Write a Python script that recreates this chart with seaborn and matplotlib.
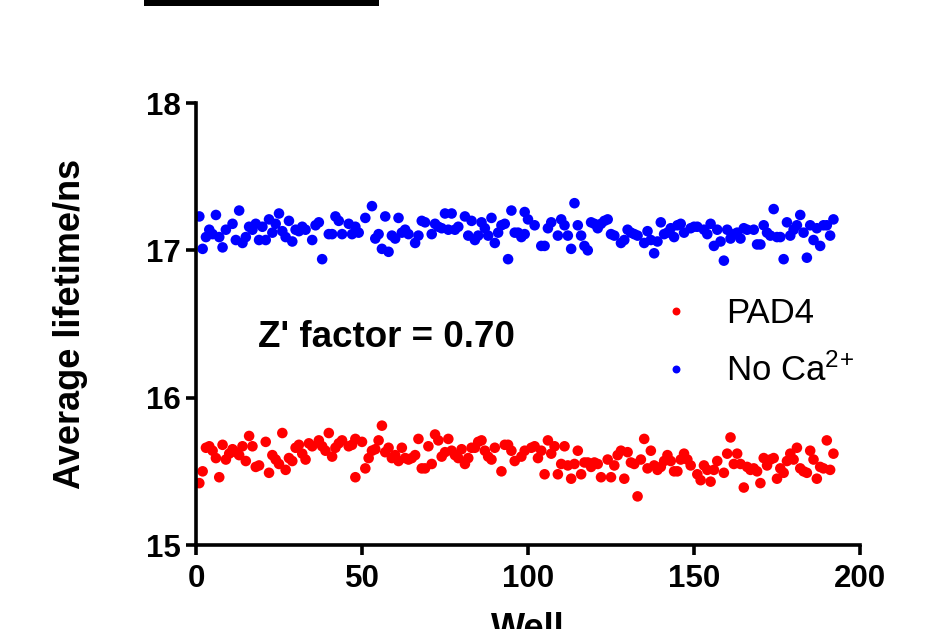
import numpy as np
import pandas as pd
import matplotlib
matplotlib.use("Agg")
import matplotlib.pyplot as plt
from matplotlib.patches import Rectangle
import seaborn as sns

# ---------------- data ----------------
noca_label = "No Ca$^{2\\!+}$"
pad4_label = "PAD4"

noca_well = [1, 2, 3, 4, 5, 6, 7, 8, 9, 11, 12, 13, 14, 15, 16, 17, 18, 19, 20, 21,
             22, 23, 24, 25, 26, 27, 28, 29, 30, 31, 32, 33, 35, 36, 37, 38, 40, 41, 42, 43,
             44, 46, 47, 48, 49, 51, 53, 54, 55, 56, 57, 58, 59, 60, 61, 62, 63, 64, 66, 67,
             68, 69, 71, 72, 73, 74, 75, 76, 77, 78, 79, 81, 82, 83, 84, 85, 86, 87, 88, 89,
             90, 91, 92, 93, 94, 95, 96, 97, 98, 99, 99, 100, 102, 104, 105, 106, 107, 109, 110, 111,
             112, 113, 114, 115, 116, 117, 118, 119, 120, 121, 122, 123, 124, 125, 126, 128, 129, 130, 131, 132,
             133, 135, 136, 137, 138, 139, 140, 141, 142, 143, 144, 145, 146, 147, 149, 150, 151, 153, 154, 155,
             156, 157, 158, 159, 160, 161, 162, 163, 164, 165, 166, 168, 169, 170, 171, 172, 173, 174, 175, 176,
             177, 178, 179, 180, 181, 182, 183, 184, 185, 186, 187, 188, 189, 190, 191, 192]
noca_val = [17.23, 17.01, 17.09, 17.14, 17.11, 17.24, 17.09, 17.02, 17.14, 17.18, 17.07, 17.27, 17.05, 17.09, 17.16, 17.14, 17.18, 17.07, 17.16, 17.07,
            17.21, 17.12, 17.18, 17.25, 17.13, 17.09, 17.20, 17.06, 17.14, 17.13, 17.16, 17.14, 17.07, 17.17, 17.19, 16.94, 17.11, 17.11, 17.23, 17.20,
            17.11, 17.18, 17.11, 17.16, 17.12, 17.22, 17.30, 17.08, 17.11, 17.01, 17.23, 16.99, 17.10, 17.08, 17.22, 17.12, 17.14, 17.11, 17.05, 17.10,
            17.20, 17.19, 17.11, 17.18, 17.16, 17.15, 17.25, 17.14, 17.25, 17.14, 17.16, 17.23, 17.10, 17.20, 17.07, 17.10, 17.19, 17.15, 17.10, 17.22,
            17.05, 17.12, 17.17, 17.18, 16.94, 17.27, 17.12, 17.12, 17.09, 17.26, 17.11, 17.21, 17.17, 17.03, 17.03, 17.15, 17.19, 17.10, 17.21, 17.17,
            17.10, 17.01, 17.32, 17.17, 17.10, 17.03, 17.00, 17.19, 17.18, 17.15, 17.18, 17.20, 17.21, 17.11, 17.10, 17.05, 17.07, 17.14, 17.12, 17.11,
            17.10, 17.05, 17.13, 17.07, 16.98, 17.06, 17.19, 17.11, 17.12, 17.15, 17.09, 17.17, 17.18, 17.12, 17.15, 17.16, 17.16, 17.14, 17.11, 17.18,
            17.03, 17.14, 17.06, 16.93, 17.14, 17.08, 17.11, 17.12, 17.08, 17.15, 17.14, 17.14, 17.04, 17.04, 17.17, 17.12, 17.10, 17.28, 17.09, 17.09,
            16.94, 17.19, 17.10, 17.14, 17.17, 17.24, 17.12, 16.95, 17.17, 17.07, 17.15, 17.03, 17.17, 17.17, 17.10, 17.21]

pad4_well = [1, 2, 3, 4, 5, 6, 7, 8, 9, 10, 11, 12, 13, 14, 15, 16, 17, 18, 19, 21,
             22, 23, 24, 25, 26, 27, 28, 29, 30, 31, 32, 33, 34, 35, 37, 38, 39, 40, 41, 42,
             43, 44, 46, 47, 48, 48, 50, 51, 52, 53, 54, 55, 56, 57, 58, 59, 60, 61, 62, 63,
             64, 65, 66, 67, 68, 69, 70, 71, 72, 73, 74, 75, 76, 77, 78, 79, 80, 81, 82, 83,
             84, 85, 86, 87, 88, 89, 90, 92, 93, 94, 95, 96, 98, 99, 101, 102, 103, 104, 105, 106,
             107, 108, 109, 110, 111, 112, 113, 114, 115, 116, 117, 118, 119, 120, 121, 122, 124, 125, 126, 127,
             128, 129, 130, 131, 132, 133, 134, 135, 136, 137, 138, 139, 140, 141, 142, 143, 144, 145, 146, 147,
             148, 149, 151, 152, 153, 154, 155, 156, 157, 159, 160, 161, 162, 163, 164, 165, 166, 167, 168, 169,
             170, 171, 172, 173, 174, 175, 176, 177, 178, 179, 180, 181, 182, 183, 184, 185, 186, 187, 188, 189,
             190, 191, 192]
pad4_val = [15.42, 15.50, 15.66, 15.67, 15.64, 15.59, 15.46, 15.68, 15.58, 15.62, 15.65, 15.63, 15.61, 15.67, 15.57, 15.74, 15.67, 15.53, 15.54, 15.70,
            15.49, 15.61, 15.58, 15.55, 15.76, 15.51, 15.59, 15.57, 15.66, 15.68, 15.62, 15.58, 15.69, 15.67, 15.71, 15.67, 15.64, 15.76, 15.60, 15.66,
            15.69, 15.71, 15.67, 15.68, 15.46, 15.72, 15.70, 15.52, 15.59, 15.64, 15.65, 15.71, 15.81, 15.63, 15.66, 15.59, 15.61, 15.57, 15.66, 15.59,
            15.58, 15.59, 15.61, 15.72, 15.52, 15.52, 15.67, 15.55, 15.75, 15.71, 15.60, 15.63, 15.72, 15.64, 15.61, 15.59, 15.65, 15.55, 15.59, 15.66,
            15.66, 15.70, 15.71, 15.64, 15.60, 15.58, 15.66, 15.50, 15.68, 15.68, 15.64, 15.57, 15.60, 15.64, 15.66, 15.67, 15.59, 15.64, 15.48, 15.71,
            15.62, 15.67, 15.48, 15.55, 15.67, 15.54, 15.45, 15.55, 15.64, 15.48, 15.56, 15.56, 15.53, 15.56, 15.55, 15.46, 15.58, 15.46, 15.54, 15.61,
            15.64, 15.45, 15.63, 15.56, 15.55, 15.33, 15.58, 15.72, 15.52, 15.64, 15.54, 15.51, 15.53, 15.57, 15.61, 15.57, 15.50, 15.50, 15.58, 15.62,
            15.58, 15.54, 15.48, 15.44, 15.54, 15.51, 15.43, 15.51, 15.57, 15.49, 15.62, 15.73, 15.55, 15.62, 15.55, 15.39, 15.53, 15.51, 15.52, 15.50,
            15.42, 15.59, 15.54, 15.58, 15.59, 15.45, 15.52, 15.49, 15.57, 15.62, 15.58, 15.66, 15.52, 15.50, 15.49, 15.64, 15.58, 15.45, 15.53, 15.52,
            15.71, 15.51, 15.62]

x_ticks = [0, 50, 100, 150, 200]
y_ticks = [15, 16, 17, 18]
annotation = "Z' factor = 0.70"

df = pd.concat([
    pd.DataFrame({"Well": pad4_well, "Lifetime": pad4_val, "Sample": pad4_label}),
    pd.DataFrame({"Well": noca_well, "Lifetime": noca_val, "Sample": noca_label}),
], ignore_index=True)

# ---------------- style ----------------
sns.set_style("ticks")
plt.rcParams["font.family"] = ["Liberation Sans", "DejaVu Sans"]
plt.rcParams["mathtext.fontset"] = "custom"
plt.rcParams["mathtext.rm"] = "Liberation Sans"
plt.rcParams["mathtext.it"] = "Liberation Sans:italic"
plt.rcParams["mathtext.bf"] = "Liberation Sans:bold"
for k in ["text.color", "axes.labelcolor", "xtick.color", "ytick.color"]:
    plt.rcParams[k] = "black"

W, H = 943, 629
fig = plt.figure(figsize=(W / 100, H / 100), dpi=100)
ax = fig.add_axes([196 / W, 1 - 545 / H, 664 / W, 442 / H])

sns.scatterplot(data=df, x="Well", y="Lifetime", hue="Sample",
                palette={pad4_label: "#ff0000", noca_label: "#0000ff"},
                s=58, linewidth=0, ax=ax)

ax.set_xlim(0, 200)
ax.set_ylim(15, 18)
ax.set_xticks(x_ticks)
ax.set_yticks(y_ticks)
sns.despine(ax=ax)
for sp in ["left", "bottom"]:
    ax.spines[sp].set_linewidth(2.6)
    ax.spines[sp].set_color("black")
ax.tick_params(axis="both", which="major", length=7, width=2.6, color="black",
               labelcolor="black", labelsize=22.5)
ax.tick_params(axis="x", pad=7)
ax.tick_params(axis="y", pad=4)
for lab in ax.get_xticklabels() + ax.get_yticklabels():
    lab.set_fontweight("bold")

ax.set_xlabel("Well", fontsize=26, fontweight="bold")
ax.set_ylabel("Average lifetime/ns", fontsize=26, fontweight="bold")
ax.xaxis.set_label_coords(0.5, -0.152)
ax.yaxis.set_label_coords(-0.163, 0.5)

ax.text(18.7, 16.345, annotation, fontsize=26.5, fontweight="bold",
        ha="left", va="baseline")

sns.move_legend(ax, "upper left", bbox_to_anchor=(0.644, 0.600), frameon=False,
                title=None, fontsize=25, markerscale=0.75, handletextpad=0.45,
                labelspacing=0.68, borderpad=0)

fig.add_artist(Rectangle((144 / W, 1 - 6 / H), 235 / W, 6 / H,
                         transform=fig.transFigure, color="black", lw=0))

fig.savefig("out.png", dpi=100)
